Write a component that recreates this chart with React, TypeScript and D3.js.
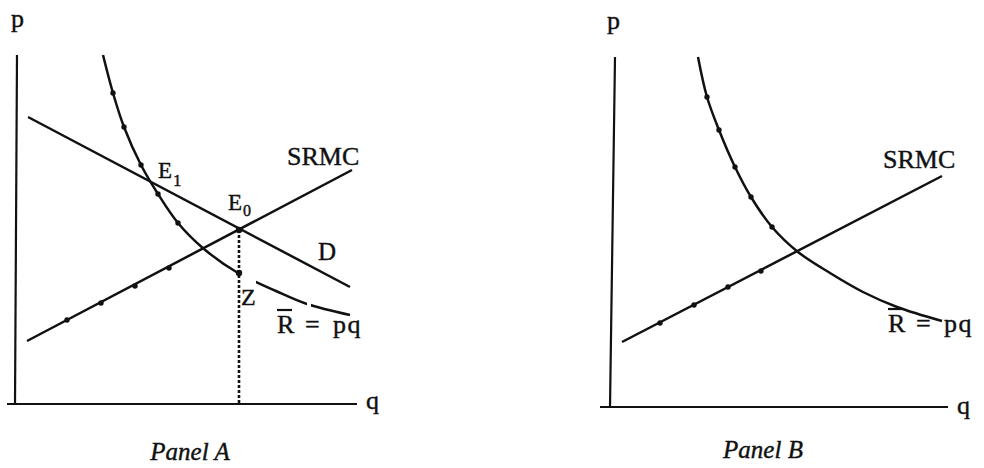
import React from "react";
import * as d3 from "d3";

type Pt = [number, number]; // [q, p]

// ---- Panel A (q and p in arbitrary units)
const axisYA: Pt[] = [[-0.1, 0], [0.1, 34.9]];
const axisXA: Pt[] = [[-0.9, 0], [34.1, 0]];
const demandA: Pt[] = [[1.2, 28.7], [33.4, 11.7]];
const srmcA: Pt[] = [[1.1, 6.3], [33.6, 23.4]];
const revenueA: Pt[] = [
  [8.7, 34.9], [9.7, 31.1], [10.8, 27.7], [12.5, 23.9], [14.2, 21.0], [16.2, 18.1],
  [18.8, 15.5], [22.2, 13.1], [26.0, 11.3], [29.1, 10.0], [33.4, 8.9],
];
const revenueDotsA: Pt[] = [[9.7, 31.1], [10.8, 27.7], [12.5, 23.9], [14.2, 21.0], [16.2, 18.1]];
const srmcDotsA: Pt[] = [[5.1, 8.4], [8.5, 10.1], [11.9, 11.8], [15.3, 13.6]];
const equilibriumA: Pt = [22.3, 17.4];
const pointZA: Pt = [22.3, 13.1];
const revenueGapsA: Pt[] = [[22.5, 24.0], [29.1, 29.5]];

// ---- Panel B
const axisYB: Pt[] = [[0, 0], [0.5, 35.0]];
const axisXB: Pt[] = [[-1.0, 0], [33.8, 0]];
const srmcB: Pt[] = [[1.2, 6.5], [33.2, 23.1]];
const revenueB: Pt[] = [
  [8.8, 35.0], [9.7, 31.0], [10.9, 27.7], [12.5, 24.0], [14.1, 21.0], [16.2, 18.0],
  [18.8, 15.5], [22.0, 13.4], [25.3, 11.5], [28.7, 10.0], [33.2, 8.6],
];
const revenueDotsB: Pt[] = [[9.7, 31.0], [10.9, 27.7], [12.5, 24.0], [14.1, 21.0], [16.2, 18.0]];
const srmcDotsB: Pt[] = [[5.0, 8.4], [8.4, 10.2], [11.8, 12.0], [15.1, 13.6]];

const W = 984;
const H = 468;
const FONT = "'Liberation Serif', 'Times New Roman', serif";
const INK = "#111";

const xA = d3.scaleLinear().domain([0, 34]).range([16, 356]);
const yA = d3.scaleLinear().domain([0, 35]).range([404, 54]);
const xB = d3.scaleLinear().domain([0, 34]).range([610, 950]);
const yB = d3.scaleLinear().domain([0, 35]).range([407, 57]);

const straight = (x, y) => d3.line<Pt>().x((d) => x(d[0])).y((d) => y(d[1]));
const smooth = (x, y) =>
  d3.line<Pt>().x((d) => x(d[0])).y((d) => y(d[1])).curve(d3.curveCatmullRom.alpha(0.5));

const Dots = ({ pts, x, y, r = 2.7 }) => (
  <g fill={INK}>
    {pts.map((d, i) => (
      <circle key={i} cx={x(d[0])} cy={y(d[1])} r={r} />
    ))}
  </g>
);

const RBar = ({ x, y }) => (
  <g>
    <line x1={x} x2={x + 15} y1={y - 23} y2={y - 23} stroke={INK} strokeWidth={2.2} />
    <text x={x} y={y}>R</text>
    <text x={x + 28} y={y}>=</text>
    <text x={x + 56} y={y} letterSpacing={1.5}>pq</text>
  </g>
);

export default function App() {
  const lineA = straight(xA, yA);
  const curveA = smooth(xA, yA);
  const lineB = straight(xB, yB);
  const curveB = smooth(xB, yB);

  return (
    <svg
      width={W}
      height={H}
      viewBox={`0 0 ${W} ${H}`}
      style={{ position: "absolute", left: 0, top: 0, background: "#fff" }}
      fontFamily={FONT}
      fill={INK}
    >
      <defs>
        <mask id="gapsA" maskUnits="userSpaceOnUse" x={0} y={0} width={W} height={H}>
          <rect x={0} y={0} width={W} height={H} fill="#fff" />
          {revenueGapsA.map((g, i) => (
            <rect key={i} x={xA(g[0])} width={xA(g[1]) - xA(g[0])} y={0} height={H} fill="#000" />
          ))}
        </mask>
      </defs>

      {/* Panel A */}
      <g fill="none" stroke={INK} strokeWidth={2.5}>
        <path d={lineA(axisYA)} strokeWidth={2.2} />
        <path d={lineA(axisXA)} strokeWidth={2.2} />
        <path d={lineA(demandA)} />
        <path d={lineA(srmcA)} />
        <path d={curveA(revenueA)} mask="url(#gapsA)" />
        <path
          d={lineA([equilibriumA, [equilibriumA[0], 0]])}
          strokeWidth={2.6}
          strokeDasharray="3 2"
        />
      </g>
      <Dots pts={revenueDotsA} x={xA} y={yA} />
      <Dots pts={srmcDotsA} x={xA} y={yA} />
      <Dots pts={[equilibriumA, pointZA]} x={xA} y={yA} r={3.2} />

      <g fontSize={26} stroke={INK} strokeWidth={0.4}>
        <text x={11} y={27}>p</text>
        <text x={366} y={409}>q</text>
        <text x={287} y={165}>SRMC</text>
        <text x={318} y={260} fontSize={25}>D</text>
        <text x={241} y={305} fontSize={24}>Z</text>
        <text x={158} y={178} fontSize={23}>E</text>
        <text x={173} y={186} fontSize={17}>1</text>
        <text x={228} y={210} fontSize={23}>E</text>
        <text x={243} y={216} fontSize={16}>0</text>
        <RBar x={277} y={333} />
        <text x={190} y={460} fontSize={25} fontStyle="italic" textAnchor="middle">Panel A</text>
      </g>

      {/* Panel B */}
      <g fill="none" stroke={INK} strokeWidth={2.5}>
        <path d={lineB(axisYB)} strokeWidth={2.2} />
        <path d={lineB(axisXB)} strokeWidth={2.2} />
        <path d={lineB(srmcB)} />
        <path d={curveB(revenueB)} />
      </g>
      <Dots pts={revenueDotsB} x={xB} y={yB} />
      <Dots pts={srmcDotsB} x={xB} y={yB} />

      <g fontSize={26} stroke={INK} strokeWidth={0.4}>
        <text x={607} y={29}>p</text>
        <text x={957} y={414}>q</text>
        <text x={883} y={168}>SRMC</text>
        <RBar x={888} y={332} />
        <text x={763} y={458} fontSize={25} fontStyle="italic" textAnchor="middle">Panel B</text>
      </g>
    </svg>
  );
}
